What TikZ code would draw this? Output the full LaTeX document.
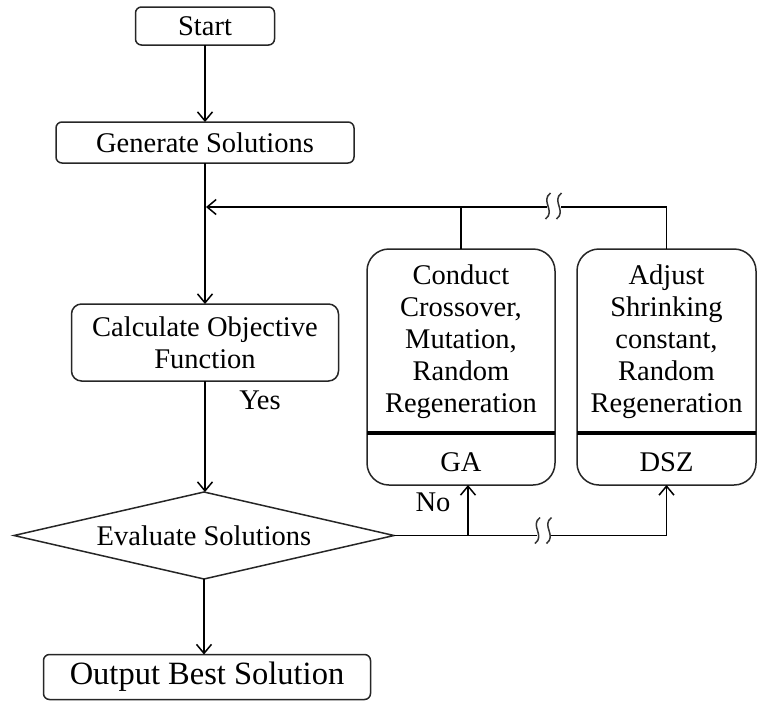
\documentclass[tikz,border=0pt]{standalone}
\usepackage{fontspec}
\setmainfont{Liberation Serif}
\usetikzlibrary{arrows.meta,shapes.geometric}
\begin{document}
\begin{tikzpicture}[x=1pt,y=-1pt,
  font={\fontsize{28.5}{32}\selectfont},
  every node/.style={inner sep=0pt, outer sep=0pt},
  box/.style={draw=black!85, line width=1.5pt, rounded corners=6pt},
  bigbox/.style={draw=black!85, line width=1.5pt, rounded corners=22pt},
  link/.style={draw=black, line width=1.5pt},
  flow/.style={link, -{Straight Barb[length=9pt,width=15pt,line width=1.5pt]}},
  divider/.style={draw=black, line width=3.4pt},
  cutmark/.style={draw=black!80, line width=1.5pt}
]
\useasboundingbox (0,0) rectangle (758,702);

% main column
\node[box, minimum width=139pt, minimum height=38pt] (start) at (205,26) {Start};
\node[box, minimum width=298pt, minimum height=41pt] (gen) at (205,142.5) {Generate Solutions};
\node[box, rounded corners=10pt, minimum width=267pt, minimum height=77pt, align=center]
  (calc) at (205,342.5) {Calculate Objective\\Function};
\node[draw=black!85, line width=1.5pt, diamond, aspect=4.37, minimum width=380pt, minimum height=87pt]
  (eval) at (204,535.5) {Evaluate Solutions};
\node[box, minimum width=327pt, minimum height=45pt, font={\fontsize{32.5}{36}\selectfont}]
  (out) at (207,677) {Output Best Solution};

% operator boxes
\node[bigbox, minimum width=188pt, minimum height=236pt] (ga) at (461,367) {};
\node[bigbox, minimum width=179pt, minimum height=236pt] (dsz) at (666.5,367) {};
\coordinate (cutrow) at (0,433);
\draw[divider] (ga.west |- cutrow) -- (ga.east |- cutrow);
\draw[divider] (dsz.west |- cutrow) -- (dsz.east |- cutrow);
\node[align=center] (gatext) at (461,342) {Conduct\\Crossover,\\Mutation,\\Random\\Regeneration};
\node[align=center] (dsztext) at (666.5,342) {Adjust\\Shrinking\\constant,\\Random\\Regeneration};
\node (galabel) at (461,462) {GA};
\node (dszlabel) at (666.5,462) {DSZ};

% labels
\node (yes) at (260,400) {Yes};
\node (no) at (433,502) {No};

% main flow
\draw[flow] (start.south) -- (start.south |- gen.north);
\draw[flow] (gen.south) -- (gen.south |- calc.north);
\draw[flow] (calc.south) -- (calc.south |- eval.north);
\draw[flow] (eval.south) -- (eval.south |- out.north);

% feedback line along the top
\coordinate (toprow) at (0,207);
\coordinate (jtop) at (ga.north |- toprow);
\coordinate (merge) at (206,207);
\coordinate (cutL) at (547,207);
\coordinate (cutR) at (561,207);
\draw[link] (ga.north) -- (jtop);
\draw[flow] (jtop) -- (merge);
\draw[link] (jtop) -- (cutL);
\draw[link] (cutR) -- (dsz.north |- toprow) -- (dsz.north);

% branches from the decision
\coordinate (botrow) at (0,535.5);
\coordinate (jbot) at (468,535.5);
\coordinate (cutL2) at (537,535.5);
\coordinate (cutR2) at (550,535.5);
\draw[link] (eval.east) -- (cutL2);
\draw[flow] (jbot) -- (jbot |- ga.south);
\draw[link] (cutR2) -- (dsz.south |- botrow);
\draw[flow] (dsz.south |- botrow) -- (dsz.south);

% line-break marks
\foreach \cx/\cy in {548/206, 559/206, 537.5/530.5, 549/530.5}
  \draw[cutmark] (\cx+2.5,\cy-13) .. controls (\cx-8,\cy-5) and (\cx+8,\cy+5) .. (\cx-2.5,\cy+13);
\end{tikzpicture}
\end{document}
